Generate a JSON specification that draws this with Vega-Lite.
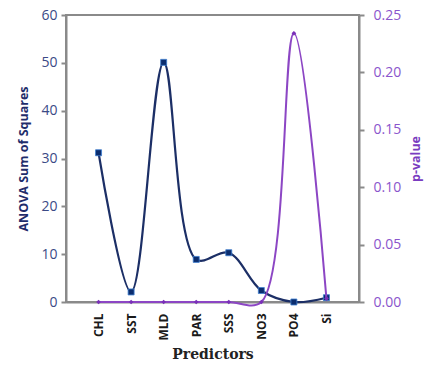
{
  "$schema": "https://vega.github.io/schema/vega-lite/v6.json",
  "autosize": "none",
  "width": 293,
  "height": 287,
  "padding": {"left": 66, "top": 15, "right": 68, "bottom": 67},
  "background": "white",
  "config": {
    "view": {"stroke": "#8a8a8a", "strokeWidth": 2},
    "font": "Open Sans"
  },
  "data": {
    "values": [
      {"predictor": "CHL", "ss": 31.2, "p": 0.0},
      {"predictor": "SST", "ss": 2.1, "p": 0.0},
      {"predictor": "MLD", "ss": 50.1, "p": 0.0},
      {"predictor": "PAR", "ss": 8.9, "p": 0.0},
      {"predictor": "SSS", "ss": 10.3, "p": 0.0},
      {"predictor": "NO3", "ss": 2.4, "p": 0.0},
      {"predictor": "PO4", "ss": 0.0, "p": 0.234},
      {"predictor": "Si", "ss": 0.9, "p": 0.003}
    ]
  },
  "encoding": {
    "x": {
      "field": "predictor",
      "type": "nominal",
      "sort": null,
      "scale": {"type": "point", "padding": 1},
      "axis": {
        "title": "Predictors",
        "titleFont": "DejaVu Serif",
        "titleFontWeight": "bold",
        "titleFontSize": 14,
        "titleColor": "#222222",
        "titlePadding": 8,
        "labelAngle": -90,
        "labelFontWeight": "bold",
        "labelFontSize": 12,
        "labelColor": "#1a1a1a",
        "labelPadding": 11,
        "ticks": false,
        "domainColor": "#8a8a8a",
        "domainWidth": 2
      }
    }
  },
  "layer": [
    {
      "encoding": {
        "y": {
          "field": "ss",
          "type": "quantitative",
          "scale": {"domain": [0, 60]},
          "axis": {
            "orient": "left",
            "values": [0, 10, 20, 30, 40, 50, 60],
            "grid": false,
            "title": "ANOVA Sum of Squares",
            "titleColor": "#1f2d6b",
            "titleFontSize": 12.5,
            "titleFontWeight": "bold",
            "titlePadding": 10,
            "labelColor": "#3b4a86",
            "labelFontSize": 14,
            "labelPadding": 4,
            "tickColor": "#8a8a8a",
            "tickWidth": 2,
            "tickSize": 5,
            "domainColor": "#8a8a8a",
            "domainWidth": 2
          }
        }
      },
      "layer": [
        {"mark": {"type": "line", "interpolate": "catmull-rom", "color": "#1c2f66", "strokeWidth": 2.2}},
        {"mark": {"type": "point", "shape": "square", "filled": true, "size": 36, "color": "#0b2d6e", "stroke": "#3f7fd0", "strokeWidth": 0.8, "opacity": 1}}
      ]
    },
    {
      "encoding": {
        "y": {
          "field": "p",
          "type": "quantitative",
          "scale": {"domain": [0, 0.25]},
          "axis": {
            "orient": "right",
            "values": [0, 0.05, 0.1, 0.15, 0.2, 0.25],
            "format": ".2f",
            "grid": false,
            "title": "p-value",
            "titleAngle": 270,
            "titleColor": "#7a3cc0",
            "titleFontSize": 12.5,
            "titleFontWeight": "bold",
            "titlePadding": 22,
            "labelColor": "#8a55cc",
            "labelFontSize": 14,
            "labelPadding": 9,
            "tickColor": "#8a8a8a",
            "tickWidth": 2,
            "tickSize": 5,
            "domainColor": "#8a8a8a",
            "domainWidth": 2
          }
        }
      },
      "layer": [
        {"mark": {"type": "line", "interpolate": "catmull-rom", "color": "#8c46c4", "strokeWidth": 2}},
        {"mark": {"type": "point", "shape": "diamond", "filled": true, "size": 22, "color": "#7a30b8", "opacity": 1}}
      ]
    }
  ],
  "resolve": {"scale": {"y": "independent"}}
}
